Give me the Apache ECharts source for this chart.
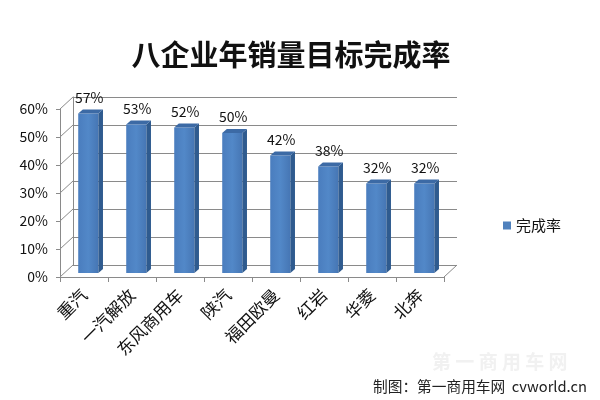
<!DOCTYPE html>
<html>
<head>
<meta charset="utf-8">
<script src="https://cdn.jsdelivr.net/npm/echarts@6/dist/echarts.min.js"></script>
<style>html,body{margin:0;padding:0;background:#fff}#c{width:600px;height:400px}</style>
</head>
<body>
<div id="c"></div>
<script>
var categories = ['重汽', '一汽解放', '东风商用车', '陕汽', '福田欧曼', '红岩', '华菱', '北奔'];
var values = [57, 53, 52, 50, 42, 38, 32, 32];
var yTicks = [0, 10, 20, 30, 40, 50, 60];
var seriesName = '完成率';

var DX = 13, DY = -12;      // depth offset of back wall
var BD = 4.3, BDY = -4;     // bar front face depth
var SX = 4.6, SY = -4;      // bar side depth
var FONT = '"Noto Sans CJK SC", "Microsoft YaHei", sans-serif';
var GRID_COLOR = '#8a8a8a';

var chart = echarts.init(document.getElementById('c'));
chart.setOption({
  animation: false,
  backgroundColor: '#fff',
  title: {
    text: '八企业年销量目标完成率',
    left: 286, top: 35, textAlign: 'center',
    textStyle: { fontFamily: FONT, fontSize: 29, fontWeight: 'bold', color: '#111' }
  },
  legend: {
    data: [{ name: seriesName, icon: 'rect' }],
    left: 498, top: 213, itemWidth: 8, itemHeight: 8, itemGap: 5,
    textStyle: { fontFamily: FONT, fontSize: 15, color: '#111' }
  },
  grid: [
    { left: 60, top: 109, width: 384, height: 168 },
    { left: 73, top: 97, width: 384, height: 168 }
  ],
  xAxis: [
    {
      gridIndex: 0, type: 'category', data: categories,
      axisLine: { show: true, lineStyle: { color: GRID_COLOR, width: 1 } },
      axisTick: { show: true, interval: 0, length: 5, lineStyle: { color: GRID_COLOR } },
      axisLabel: { interval: 0, rotate: 45, margin: 15, fontFamily: FONT, fontSize: 17, color: '#111' },
      splitLine: { show: false }
    },
    {
      gridIndex: 1, type: 'category', data: categories,
      axisLine: { show: false }, axisTick: { show: false }, axisLabel: { show: false },
      splitLine: { show: false }
    }
  ],
  yAxis: [
    {
      gridIndex: 0, type: 'value', min: 0, max: 60, interval: 10,
      axisLine: { show: true, lineStyle: { color: GRID_COLOR, width: 1 } },
      axisTick: { show: true, length: 4, lineStyle: { color: GRID_COLOR } },
      axisLabel: { formatter: '{value}%', margin: 12, fontFamily: FONT, fontSize: 14, color: '#111' },
      splitLine: { show: false }
    },
    {
      gridIndex: 1, type: 'value', min: 0, max: 60, interval: 10,
      axisLine: { show: true, lineStyle: { color: GRID_COLOR, width: 1 } },
      axisTick: { show: false }, axisLabel: { show: false },
      splitLine: { show: true, lineStyle: { color: GRID_COLOR, width: 1 } }
    }
  ],
  series: [
    {
      type: 'custom', name: 'walls', xAxisIndex: 0, yAxisIndex: 0, silent: true,
      data: yTicks.map(function (t) { return [0, t]; }),
      renderItem: function (params, api) {
        var v = api.value(1);
        var y = api.coord([0, v])[1];
        var x0 = params.coordSys.x, x1 = params.coordSys.x + params.coordSys.width;
        var st = { stroke: GRID_COLOR, lineWidth: 1 };
        var children = [{ type: 'line', shape: { x1: x0, y1: y, x2: x0 + DX, y2: y + DY }, style: st }];
        if (v === 0) {
          children.push({ type: 'line', shape: { x1: x1, y1: y, x2: x1 + DX, y2: y + DY }, style: st });
        }
        return { type: 'group', children: children };
      }
    },
    {
      type: 'custom', name: seriesName, xAxisIndex: 0, yAxisIndex: 0,
      itemStyle: { color: '#4F81BD' },
      data: values.map(function (v, i) { return [i, v]; }),
      renderItem: function (params, api) {
        var i = api.value(0), v = api.value(1);
        var top = api.coord([i, v]);
        var bot = api.coord([i, 0]);
        var w = api.size([1, 0])[0] * 0.42;
        var xl = top[0] + BD - w / 2, xr = top[0] + BD + w / 2;
        var yt = top[1] + BDY, yb = bot[1] + BDY;
        return {
          type: 'group',
          children: [
            { type: 'rect', shape: { x: xl, y: yt, width: w, height: yb - yt },
              style: { fill: new echarts.graphic.LinearGradient(0, 0, 1, 0, [
                { offset: 0, color: '#4A7DBE' }, { offset: 0.5, color: '#5288C8' }, { offset: 1, color: '#4676B4' }]) } },
            { type: 'polygon', shape: { points: [[xr, yt], [xr + SX, yt + SY], [xr + SX, yb + SY], [xr, yb]] },
              style: { fill: '#2F5B8F' } },
            { type: 'polygon', shape: { points: [[xl, yt], [xr, yt], [xr + SX, yt + SY], [xl + SX, yt + SY]] },
              style: { fill: '#3C6AA5' } },
            { type: 'text', x: (xl + xr) / 2 + 1, y: yt - 16,
              style: { text: v + '%', fill: '#111', font: '14px ' + FONT, align: 'center', verticalAlign: 'middle' } }
          ]
        };
      }
    }
  ],
  graphic: [
    { type: 'text', left: 432, top: 352, z: -1,
      style: { text: '第 一 商 用 车 网', fill: '#f1f1f1', font: 'bold 19px ' + FONT } },
    { type: 'text', left: 373, top: 379,
      style: { text: '制图：第一商用车网  cvworld.cn', fill: '#222', font: '14.7px ' + FONT } }
  ]
});
</script>
</body>
</html>
